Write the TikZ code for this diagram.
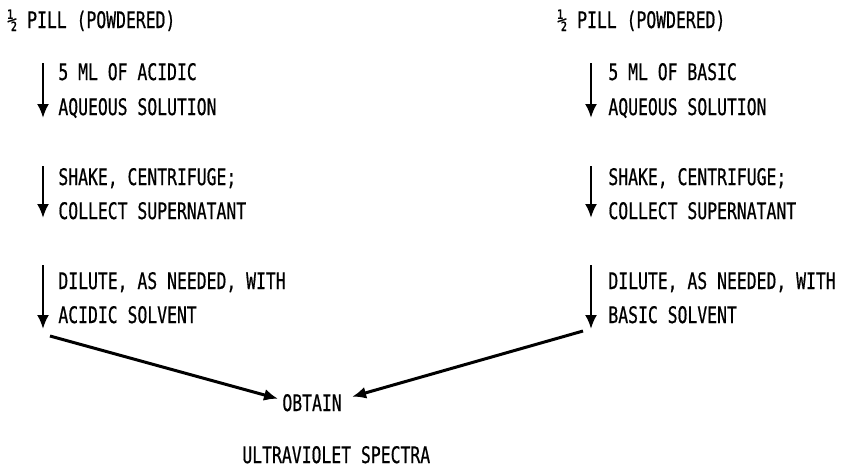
\documentclass[tikz,border=0pt]{standalone}
\usepackage{fontspec}
\newfontfamily\printfont[FakeStretch=0.72,FakeBold=0.6]{DejaVu Sans Mono}
\usetikzlibrary{positioning,arrows.meta}

\begin{document}
\begin{tikzpicture}
    [x=0.5pt,y=-0.5pt,every node/.style={inner sep=0pt, anchor=base west, font=\printfont\fontsize{11.4}{13}\selectfont}]
  \useasboundingbox (0,0) rectangle (844,468);

  % acidic side
  \node (pillA) at (7,28) {½ PILL (POWDERED)};
  \node (a1) at (58,80) {5 ML OF ACIDIC};
  \node (a2) at (58,115) {AQUEOUS SOLUTION};
  \node (a3) at (58,185) {SHAKE, CENTRIFUGE;};
  \node (a4) at (58,219) {COLLECT SUPERNATANT};
  \node (a5) at (58,289) {DILUTE, AS NEEDED, WITH};
  \node (a6) at (58,323) {ACIDIC SOLVENT};

  % basic side
  \node (pillB) at (557,28) {½ PILL (POWDERED)};
  \node (b1) at (608,80) {5 ML OF BASIC};
  \node (b2) at (608,115) {AQUEOUS SOLUTION};
  \node (b3) at (608,185) {SHAKE, CENTRIFUGE;};
  \node (b4) at (608,219) {COLLECT SUPERNATANT};
  \node (b5) at (608,289) {DILUTE, AS NEEDED, WITH};
  \node (b6) at (608,323) {BASIC SOLVENT};

  \node (obtain) at (282,411) {OBTAIN};
  \node (uv) at (242,463) {ULTRAVIOLET SPECTRA};

  \coordinate (sA1) at (43,63);  \coordinate (eA1) at (43,118);
  \coordinate (sA2) at (43,166); \coordinate (eA2) at (43,218);
  \coordinate (sA3) at (43,265); \coordinate (eA3) at (43,329);
  \coordinate (sB1) at (591,63);  \coordinate (eB1) at (591,118);
  \coordinate (sB2) at (591,166); \coordinate (eB2) at (591,218);
  \coordinate (sB3) at (591,265); \coordinate (eB3) at (591,329);
  \coordinate (jA) at (50,336);
  \coordinate (jB) at (583,331);

  \foreach \from/\to in {sA1/eA1, sA2/eA2, sA3/eA3, sB1/eB1, sB2/eB2, sB3/eB3}
    \draw (\from) edge[-{Latex[length=7pt,width=6pt]}, line width=1.2pt] (\to);

  \draw (jA) edge[-{Latex[length=7pt,width=6pt]}, line width=1.5pt] ([xshift=-2pt,yshift=2pt]obtain.west);
  \draw (jB) edge[-{Latex[length=7pt,width=6pt]}, line width=1.5pt] ([xshift=5pt,yshift=3pt]obtain.east);
\end{tikzpicture}
\end{document}
